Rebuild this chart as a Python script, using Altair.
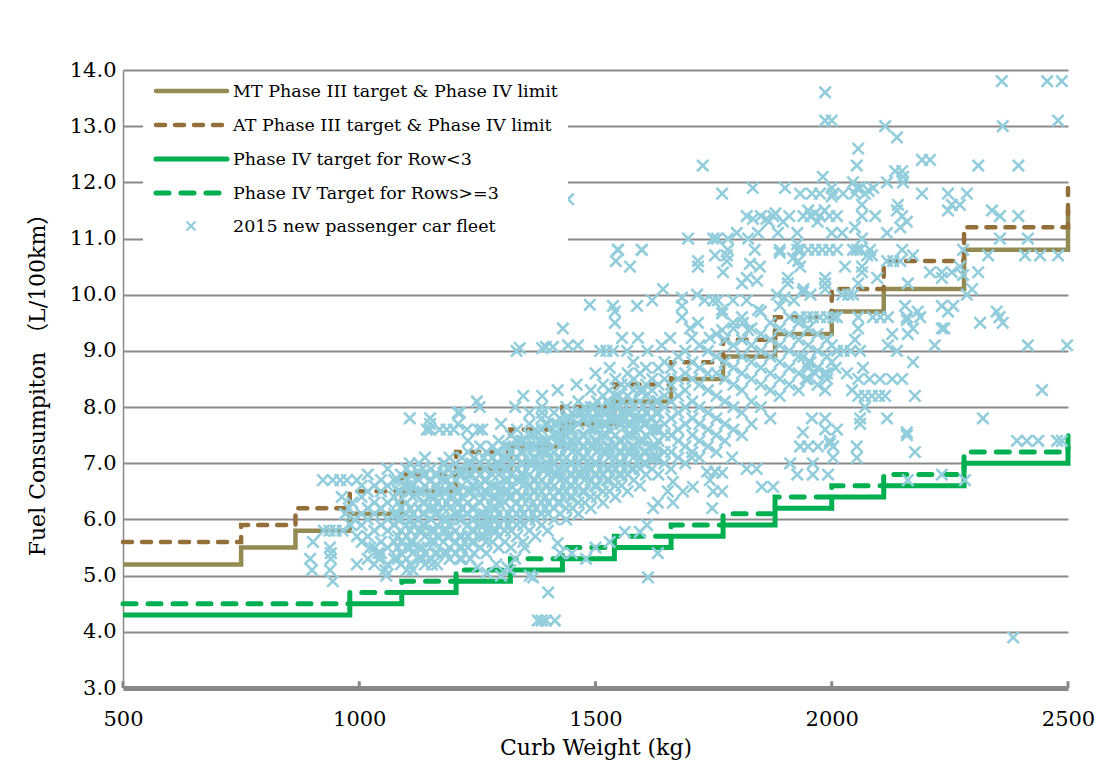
import altair as alt
import pandas as pd

# ---------------- step standards ----------------
weight_breaks = [500, 750, 865, 980, 1090, 1205, 1320, 1430, 1540, 1660, 1770, 1880, 2000, 2110, 2280, 2500]
mt_limit = [5.2, 5.5, 5.8, 6.1, 6.5, 6.9, 7.3, 7.7, 8.1, 8.5, 8.9, 9.3, 9.7, 10.1, 10.8, 11.5]
at_limit = [5.6, 5.9, 6.2, 6.5, 6.8, 7.2, 7.6, 8.0, 8.4, 8.8, 9.2, 9.6, 10.1, 10.6, 11.2, 11.9]
target_row_lt3 = [4.3, 4.3, 4.3, 4.5, 4.7, 4.9, 5.1, 5.3, 5.5, 5.7, 5.9, 6.2, 6.4, 6.6, 7.0, 7.3]
target_row_ge3 = [4.5, 4.5, 4.5, 4.7, 4.9, 5.1, 5.3, 5.5, 5.7, 5.9, 6.1, 6.4, 6.6, 6.8, 7.2, 7.6]

series_names = [
    "MT Phase III target & Phase IV limit",
    "AT Phase III target & Phase IV limit",
    "Phase IV target for Row<3",
    "Phase IV Target for Rows>=3",
    "2015 new passenger car  fleet",
]

x_tick_values = [500, 1000, 1500, 2000, 2500]
y_tick_values = [3.0, 4.0, 5.0, 6.0, 7.0, 8.0, 9.0, 10.0, 11.0, 12.0, 13.0, 14.0]

# ---------------- 2015 fleet ----------------
left_points = [
    (902, 5.6), (896, 5.3), (900, 5.1), (938, 5.5), (940, 5.4), (940, 5.3), (944, 4.9), (938, 5.1),
    (923, 6.7), (944, 6.7), (960, 6.7), (974, 6.7), (995, 6.7), (963, 6.4), (995, 5.7), (995, 5.2),
    (1023, 5.5), (1040, 5.4), (1042, 5.3), (1055, 5.1), (1057, 5.0), (1101, 5.1), (1154, 5.2),
    (925, 5.8), (937, 5.8), (950, 5.8), (965, 5.8), (978, 6.2), (985, 6.3), (990, 6.0), (982, 5.9),
    (970, 6.1), (1107, 7.8), (1107, 7.0), (1139, 7.1), (1150, 7.8), (1150, 7.7), (1150, 7.6),
    (1181, 7.0), (1185, 7.6), (1200, 7.6), (1209, 7.9), (1209, 7.7), (1213, 7.9), (1228, 7.6),
    (1230, 7.4), (1249, 8.1), (1252, 7.6), (1260, 7.6), (1143, 7.6), (1170, 7.6), (1255, 8.0),
]

mid_points = [
    (1347, 8.2), (1330, 8.0), (1387, 8.2), (1387, 8.0), (1387, 7.9), (1340, 9.05), (1333, 9.0),
    (1387, 9.05), (1395, 9.07), (1410, 9.07), (1442, 9.1), (1463, 9.1), (1442, 11.7), (1431, 9.4),
    (1488, 9.82), (1510, 9.0), (1523, 9.0), (1537, 9.0), (1567, 9.0), (1300, 7.7), (1360, 7.9),
    (1420, 8.3), (1460, 8.4), (1500, 8.6), (1530, 8.7), (1580, 8.8), (1610, 9.0), (1640, 9.1),
]

upper_points = [
    (1543, 10.6), (1573, 10.5), (1598, 10.8), (1547, 10.8), (1717, 10.6), (1717, 10.5), (1753, 10.7),
    (1778, 10.7), (1778, 10.6), (1770, 10.4), (1827, 10.55), (1848, 10.5), (1810, 10.2), (1820, 10.3),
    (1842, 10.25), (1890, 10.75), (1918, 10.65), (1929, 10.6), (1907, 10.3), (1907, 10.2), (1884, 10.0),
    (1900, 9.95), (1920, 9.9), (1939, 10.05), (1643, 10.1), (1620, 9.9), (1537, 9.8), (1541, 9.7),
    (1541, 9.5), (1588, 9.8), (1683, 9.95), (1683, 9.8), (1683, 9.6), (1715, 10.0), (1731, 9.9),
    (1749, 9.9), (1759, 9.9), (1768, 9.73), (1768, 9.67), (1791, 9.9), (1820, 9.9), (1844, 9.73),
    (1791, 9.5), (1812, 9.5), (1823, 9.37), (1700, 9.4), (1717, 9.5), (1704, 9.23), (1742, 9.23),
    (1768, 9.37), (1556, 9.23), (1590, 9.23), (1658, 9.23),
    (1727, 12.3), (1768, 11.8), (1833, 11.9), (1901, 11.9), (1933, 11.8), (1820, 11.4), (1833, 11.35),
    (1850, 11.4), (1862, 11.35), (1867, 11.3), (1876, 11.4), (1881, 11.45), (1897, 11.3), (1910, 11.4),
    (1799, 11.1), (1844, 11.1), (1886, 11.1), (1927, 11.1), (1696, 11.0), (1749, 11.0), (1757, 11.0),
    (1780, 11.0), (1823, 11.0), (1548, 10.8), (1598, 10.8), (1780, 10.8), (1837, 10.8), (1890, 10.8),
    (1927, 10.9), (1927, 10.8),
]

heavy_points = [
    (1986, 13.6), (1986, 13.1), (2000, 13.1), (2360, 13.8), (2456, 13.8), (2487, 13.8), (2113, 13.0),
    (2362, 13.0), (2479, 13.1), (2138, 12.8), (2056, 12.6), (2053, 12.3), (2191, 12.4), (2208, 12.4),
    (2310, 12.3), (2395, 12.3), (1981, 12.1), (2134, 12.2), (2149, 12.2), (2151, 12.1), (2151, 12.0),
    (2045, 12.0), (2053, 11.9), (2117, 12.0), (1958, 11.8), (1975, 11.8), (2003, 11.8),
    (2024, 11.8), (2000, 11.9), (2000, 11.75), (2049, 11.8), (2060, 11.9), (2070, 11.8), (2078, 11.85),
    (2088, 11.9), (2191, 11.8), (2246, 11.8), (2286, 11.8), (2254, 11.6), (2271, 11.6), (2246, 11.5),
    (2339, 11.5), (2356, 11.4), (2395, 11.4), (2064, 11.6), (2064, 11.4), (2092, 11.4), (2140, 11.6),
    (2138, 11.5), (2149, 11.4), (2159, 11.3), (2145, 11.2), (1940, 11.4), (1955, 11.4), (1965, 11.45),
    (1975, 11.4), (1985, 11.5), (1995, 11.4), (2011, 11.4), (1950, 11.5), (1970, 11.3), (2049, 11.2),
    (2064, 11.0), (2000, 11.1), (2022, 11.1), (2117, 11.1), (1933, 10.8), (1950, 10.8), (1965, 10.8),
    (1980, 10.8), (1995, 10.8), (2011, 10.8), (2053, 10.8), (2081, 10.8), (2149, 10.8), (2356, 11.0),
    (2415, 11.0), (2278, 10.8), (2045, 10.8), (2060, 10.8), (2075, 10.7), (2085, 10.7), (2172, 10.7),
    (2331, 10.7), (2409, 10.7), (2441, 10.7), (2479, 10.7), (2028, 10.5), (2064, 10.5), (2064, 10.4),
    (2096, 10.3), (2117, 10.6), (2130, 10.6), (2145, 10.6), (2208, 10.4), (2233, 10.4), (2233, 10.3),
    (2254, 10.4), (2271, 10.5), (2278, 10.35), (2310, 10.4), (2161, 10.2), (2297, 10.1), (2286, 10.0),
    (1986, 10.3), (1986, 10.2), (1986, 10.1), (2056, 10.2), (2022, 10.0), (2035, 10.0), (2045, 10.0),
    (1933, 10.5), (1940, 10.1), (1955, 10.0),
    (1933, 9.6), (1948, 9.6), (1960, 9.6), (1975, 9.6), (1990, 9.6), (2003, 9.6), (2011, 9.6),
    (2155, 9.8), (2159, 9.6), (2159, 9.55), (2182, 9.7), (2187, 9.6), (2233, 9.8), (2246, 9.7),
    (2257, 9.8), (2056, 9.6), (2087, 9.6), (2103, 9.6), (2119, 9.6), (2233, 9.4), (2238, 9.4),
    (2314, 9.5), (2349, 9.7), (2355, 9.6), (2362, 9.5), (1950, 9.4), (2056, 9.4), (2128, 9.3),
    (2161, 9.3), (2172, 9.4), (2049, 9.2), (2000, 9.1), (2119, 9.1), (2218, 9.1), (2415, 9.1),
    (2498, 9.1), (2011, 9.0), (2025, 9.0), (2040, 9.0), (2060, 9.0), (2138, 9.0), (2172, 8.8),
    (2066, 8.7), (2032, 8.6), (2056, 8.5), (2080, 8.5), (2102, 8.5), (2128, 8.5), (2149, 8.5),
    (1940, 8.9), (1955, 8.8), (1970, 8.7), (1985, 8.6), (2000, 8.8), (1945, 8.5), (1965, 8.6),
    (1990, 8.5), (2008, 8.7), (1950, 8.7),
    (1986, 8.3), (2043, 8.3), (2056, 8.2), (2070, 8.2), (2085, 8.2), (2100, 8.2), (2113, 8.2),
    (2176, 8.2), (2445, 8.3), (2070, 8.0), (1958, 7.8), (1986, 7.8), (2060, 7.8), (2060, 7.7),
    (2117, 7.8), (2320, 7.8), (1986, 7.6), (2011, 7.6), (2159, 7.55), (1939, 7.55), (1996, 7.4),
    (1996, 7.35), (1933, 7.3), (1950, 7.3), (1971, 7.3), (2003, 7.3), (2003, 7.1), (2053, 7.3),
    (2053, 7.1), (1960, 7.0), (1960, 6.8), (1992, 6.8), (2159, 7.5), (2176, 7.2), (2161, 6.7),
    (2233, 6.8), (2282, 6.7), (2392, 7.4), (2413, 7.4), (2437, 7.4), (2477, 7.4), (2487, 7.4),
    (2384, 3.9),
]

low_points = [
    (1235, 5.3), (1250, 5.15), (1213, 5.3), (1270, 5.05), (1300, 5.0), (1313, 5.15), (1368, 4.97),
    (1400, 4.7), (1378, 4.2), (1386, 4.2), (1395, 4.2), (1414, 4.2), (1420, 5.58),
    (1425, 5.4), (1611, 4.97), (1632, 5.4), (1562, 5.78), (1594, 5.78), (1609, 5.9), (1622, 6.2),
    (1632, 6.3), (1664, 6.3), (1653, 6.5), (1664, 6.67), (1685, 6.5), (1706, 6.58), (1747, 6.2),
    (1749, 6.5), (1768, 6.5), (1736, 6.85), (1742, 6.7), (1753, 6.85), (1768, 6.83), (1852, 6.58),
    (1876, 6.58), (1820, 6.9), (1841, 6.9), (1912, 7.0), (1927, 6.8), (1704, 7.1), (1789, 7.1),
    (1480, 5.3), (1500, 5.5), (1530, 5.6), (1450, 5.4), (1350, 5.5), (1330, 5.3), (1290, 5.2),
    (1319, 5.1), (1361, 5.0),
]

core_weight = [1005, 1018, 1032, 1046, 1060, 1074, 1088, 1100, 1113, 1126, 1139, 1152, 1165, 1178,
               1191, 1204, 1217, 1230, 1243, 1256, 1269, 1282, 1295, 1308, 1321, 1334, 1347, 1360,
               1373, 1386, 1399, 1412, 1425, 1438, 1451, 1464, 1477, 1490, 1503, 1516, 1529, 1542,
               1555, 1568, 1581, 1594, 1607, 1620, 1633, 1646, 1660, 1675, 1690, 1705, 1720, 1738,
               1756, 1774, 1792, 1810, 1830, 1850, 1870, 1890, 1910, 1930, 1950, 1970, 1990]
core_fc = [
    [5.6, 5.9, 6.1, 6.4, 6.6],
    [5.3, 5.7, 6.0, 6.2, 6.5, 6.8],
    [5.2, 5.5, 5.8, 6.1, 6.3, 6.6],
    [5.4, 5.6, 5.9, 6.2, 6.5, 6.7],
    [5.2, 5.5, 5.8, 6.0, 6.3, 6.6, 6.9],
    [5.3, 5.6, 5.9, 6.1, 6.4, 6.7],
    [5.2, 5.4, 5.6, 5.8, 6.0, 6.2, 6.5, 6.8],
    [5.3, 5.5, 5.7, 5.9, 6.1, 6.3, 6.6, 6.9],
    [5.1, 5.4, 5.6, 5.9, 6.1, 6.4, 6.6, 6.8],
    [5.3, 5.5, 5.8, 6.0, 6.2, 6.5, 6.7, 7.0],
    [5.2, 5.4, 5.7, 5.9, 6.1, 6.3, 6.6, 6.8],
    [5.3, 5.6, 5.8, 6.0, 6.2, 6.4, 6.7, 6.9],
    [5.2, 5.4, 5.7, 5.9, 6.1, 6.3, 6.5, 6.8],
    [5.4, 5.6, 5.8, 6.0, 6.2, 6.5, 6.7, 7.0],
    [5.3, 5.5, 5.7, 5.9, 6.2, 6.4, 6.6, 6.9, 7.1],
    [5.4, 5.6, 5.8, 6.1, 6.3, 6.5, 6.7, 7.0],
    [5.3, 5.5, 5.7, 6.0, 6.2, 6.4, 6.6, 6.8, 7.1],
    [5.5, 5.7, 5.9, 6.1, 6.3, 6.5, 6.8, 7.0, 7.2],
    [5.4, 5.6, 5.8, 6.0, 6.2, 6.4, 6.6, 6.9, 7.1],
    [5.5, 5.7, 5.9, 6.1, 6.3, 6.6, 6.8, 7.0, 7.3],
    [5.4, 5.6, 5.8, 6.0, 6.2, 6.5, 6.7, 6.9, 7.2],
    [5.6, 5.8, 6.0, 6.2, 6.4, 6.6, 6.8, 7.1, 7.3],
    [5.5, 5.7, 5.9, 6.1, 6.3, 6.5, 6.8, 7.0, 7.2, 7.4],
    [5.6, 5.8, 6.0, 6.3, 6.5, 6.7, 6.9, 7.1, 7.3],
    [5.5, 5.8, 6.0, 6.2, 6.4, 6.6, 6.8, 7.0, 7.2, 7.5],
    [5.7, 5.9, 6.1, 6.3, 6.5, 6.7, 6.9, 7.1, 7.4, 7.6],
    [5.6, 5.9, 6.1, 6.4, 6.6, 6.8, 7.0, 7.2, 7.4],
    [5.8, 6.0, 6.2, 6.4, 6.6, 6.8, 7.0, 7.3, 7.5, 7.7],
    [5.7, 6.0, 6.2, 6.5, 6.7, 6.9, 7.1, 7.3, 7.6],
    [5.9, 6.1, 6.3, 6.5, 6.7, 6.9, 7.2, 7.4, 7.6, 7.8],
    [5.8, 6.1, 6.3, 6.6, 6.8, 7.0, 7.2, 7.4, 7.7],
    [6.0, 6.2, 6.4, 6.6, 6.8, 7.0, 7.2, 7.5, 7.7, 7.9],
    [6.1, 6.3, 6.5, 6.7, 6.9, 7.1, 7.3, 7.5, 7.8],
    [6.0, 6.2, 6.5, 6.7, 6.9, 7.1, 7.3, 7.6, 7.8, 8.0],
    [6.2, 6.4, 6.6, 6.8, 7.0, 7.2, 7.4, 7.6, 7.9],
    [6.1, 6.3, 6.6, 6.8, 7.0, 7.2, 7.4, 7.7, 7.9, 8.1],
    [6.3, 6.5, 6.7, 6.9, 7.1, 7.3, 7.5, 7.8, 8.0],
    [6.2, 6.4, 6.7, 6.9, 7.1, 7.3, 7.6, 7.8, 8.0, 8.3],
    [6.4, 6.6, 6.8, 7.0, 7.2, 7.4, 7.7, 7.9, 8.1],
    [6.3, 6.5, 6.8, 7.0, 7.2, 7.5, 7.7, 7.9, 8.2, 8.4],
    [6.5, 6.7, 6.9, 7.1, 7.3, 7.6, 7.8, 8.0, 8.3],
    [6.4, 6.6, 6.9, 7.1, 7.3, 7.5, 7.8, 8.0, 8.2, 8.5],
    [6.6, 6.8, 7.0, 7.2, 7.4, 7.7, 7.9, 8.1, 8.4],
    [6.5, 6.8, 7.0, 7.2, 7.5, 7.7, 7.9, 8.2, 8.4, 8.6],
    [6.7, 6.9, 7.1, 7.3, 7.6, 7.8, 8.0, 8.3, 8.5],
    [6.6, 6.9, 7.1, 7.4, 7.6, 7.8, 8.1, 8.3, 8.6],
    [6.8, 7.0, 7.2, 7.5, 7.7, 7.9, 8.2, 8.4, 8.7],
    [6.9, 7.1, 7.3, 7.6, 7.8, 8.0, 8.3, 8.5],
    [6.8, 7.1, 7.4, 7.6, 7.9, 8.1, 8.4, 8.7],
    [7.0, 7.2, 7.5, 7.7, 8.0, 8.2, 8.5, 8.8],
    [6.9, 7.2, 7.5, 7.8, 8.1, 8.4, 8.7],
    [7.1, 7.4, 7.6, 7.9, 8.2, 8.5, 8.9],
    [7.0, 7.3, 7.7, 8.0, 8.3, 8.6, 9.0],
    [7.2, 7.5, 7.8, 8.1, 8.5, 8.8],
    [7.1, 7.4, 7.7, 8.0, 8.4, 8.7, 9.1],
    [7.3, 7.6, 7.9, 8.3, 8.6, 9.0],
    [7.2, 7.5, 7.8, 8.2, 8.6, 8.9, 9.3],
    [7.4, 7.7, 8.1, 8.5, 8.8, 9.2],
    [7.6, 8.0, 8.4, 8.7, 9.1, 9.4],
    [7.5, 7.9, 8.3, 8.6, 8.9, 9.2, 9.6],
    [7.7, 8.1, 8.5, 8.8, 9.1, 9.4],
    [8.0, 8.4, 8.7, 9.0, 9.3, 9.7],
    [7.8, 8.3, 8.6, 8.9, 9.2, 9.5],
    [8.2, 8.5, 8.8, 9.1, 9.4, 9.8],
    [8.4, 8.7, 9.0, 9.3, 9.6],
    [8.3, 8.6, 8.9, 9.2, 9.5],
    [8.5, 8.8, 9.1, 9.4],
    [8.4, 8.7, 9.0, 9.3],
    [8.6, 8.9, 9.2],
]

# the densest part of the cloud, second pass between the columns above
dense_weight = [1082, 1108, 1134, 1160, 1186, 1212, 1238, 1264, 1290, 1316, 1342, 1368, 1394,
                1420, 1446, 1472, 1498, 1524, 1550, 1576, 1602, 1628]
dense_fc = [
    [5.3, 5.5, 5.7, 6.0, 6.1, 6.3, 6.5, 6.7],
    [5.2, 5.5, 5.6, 5.8, 6.0, 6.2, 6.5, 6.6, 6.8],
    [5.3, 5.5, 5.8, 5.9, 6.1, 6.3, 6.5, 6.8, 6.9],
    [5.4, 5.6, 5.8, 6.1, 6.2, 6.4, 6.6, 6.8],
    [5.4, 5.7, 5.8, 6.0, 6.3, 6.5, 6.7, 6.9],
    [5.5, 5.7, 6.0, 6.1, 6.3, 6.5, 6.8, 6.9],
    [5.6, 5.8, 6.0, 6.2, 6.5, 6.6, 6.8, 7.0],
    [5.7, 5.9, 6.1, 6.4, 6.5, 6.7, 6.9, 7.1],
    [5.8, 6.0, 6.2, 6.4, 6.6, 6.9, 7.0, 7.2],
    [5.9, 6.1, 6.4, 6.5, 6.7, 6.9, 7.1, 7.3],
    [6.0, 6.2, 6.4, 6.7, 6.8, 7.0, 7.2, 7.4],
    [6.1, 6.3, 6.5, 6.7, 7.0, 7.1, 7.3, 7.5],
    [6.2, 6.4, 6.6, 6.9, 7.0, 7.2, 7.4, 7.7],
    [6.3, 6.5, 6.8, 6.9, 7.1, 7.4, 7.5, 7.7],
    [6.4, 6.6, 6.8, 7.0, 7.3, 7.4, 7.6, 7.8],
    [6.5, 6.8, 6.9, 7.1, 7.3, 7.5, 7.8, 7.9],
    [6.6, 6.8, 7.0, 7.3, 7.4, 7.6, 7.8, 8.0],
    [6.7, 6.9, 7.2, 7.3, 7.5, 7.7, 7.9, 8.1],
    [6.8, 7.0, 7.2, 7.4, 7.7, 7.8, 8.0, 8.2],
    [6.9, 7.2, 7.3, 7.5, 7.7, 7.9, 8.1],
    [7.0, 7.2, 7.4, 7.7, 7.8, 8.0, 8.3],
    [7.1, 7.3, 7.6, 7.7, 7.9, 8.1],
]

# ---------------- tables ----------------
step_rows = []
for name, vals in zip(series_names[:4], [mt_limit, at_limit, target_row_lt3, target_row_ge3]):
    for w, v in zip(weight_breaks, vals):
        step_rows.append({"series": name, "weight": w, "fc": v})
steps = pd.DataFrame(step_rows)

fleet_rows = [{"weight": w, "fc": f} for w, f in left_points + mid_points + upper_points + heavy_points + low_points]
for w, fcs in list(zip(core_weight, core_fc)) + list(zip(dense_weight, dense_fc)):
    for f in fcs:
        fleet_rows.append({"weight": w, "fc": f})
fleet = pd.DataFrame(fleet_rows)

FONT = "DejaVu Serif"
GRID = "#898989"
MT_COLOR = "#948A54"
AT_COLOR = "#93703A"
GREEN = "#00B050"
BLUE = "#92CDDC"
X_SHAPE = "M-1,-1L1,1M-1,1L1,-1"

x_scale = alt.Scale(domain=[500, 2500], nice=False, zero=False)
y_scale = alt.Scale(domain=[3, 14], nice=False, zero=False)

x_enc = alt.X("weight:Q", scale=x_scale, axis=alt.Axis(
    values=x_tick_values, format="d", title="Curb Weight (kg)", grid=False, ticks=False,
    domainColor=GRID, domainWidth=5, labelFlush=False, labelPadding=20, titlePadding=8,
))
y_enc = alt.Y("fc:Q", scale=y_scale, axis=alt.Axis(
    values=y_tick_values, format=".1f", title="Fuel Consumpiton （L/100km）", grid=True,
    gridColor=GRID, gridWidth=2, ticks=False, domainColor=GRID, domainWidth=1.5,
    labelPadding=7, titlePadding=20,
))


def step_layer(name, color, width, dash=None):
    kw = dict(interpolate="step-after", color=color, strokeWidth=width)
    if dash:
        kw.update(strokeDash=dash, strokeCap="round")
    return alt.Chart(steps).transform_filter(alt.datum.series == name).mark_line(**kw).encode(
        x=x_enc, y=y_enc
    )


mt_line = step_layer(series_names[0], MT_COLOR, 4.5)
at_line = step_layer(series_names[1], AT_COLOR, 4.5, [9, 10])
g1_line = step_layer(series_names[2], GREEN, 5)
g2_line = step_layer(series_names[3], GREEN, 5, [13, 12])

ticks_df = pd.DataFrame({"weight": x_tick_values})
x_ticks = alt.Chart(ticks_df).mark_rule(color=GRID, strokeWidth=3).encode(
    x=alt.X("weight:Q", scale=x_scale), y=alt.datum(3.0), y2=alt.datum(3.12)
)

points = alt.Chart(fleet).mark_point(
    shape=X_SHAPE, filled=False, color=BLUE, strokeWidth=2.6, size=130, opacity=1
).encode(x=x_enc, y=y_enc)

# ---------------- legend (drawn) ----------------
one = pd.DataFrame({"k": [0]})
leg_x0, leg_x1, leg_tx = 33, 104, 110
leg_rows_y = [21, 55, 89, 123, 156]
legend_layers = [
    alt.Chart(one).mark_rect(color="white").encode(
        x=alt.value(20), x2=alt.value(445), y=alt.value(3), y2=alt.value(176)
    ),
    alt.Chart(one).mark_rule(color=MT_COLOR, strokeWidth=4.5, strokeCap="round").encode(
        x=alt.value(leg_x0), x2=alt.value(leg_x1), y=alt.value(leg_rows_y[0])
    ),
    alt.Chart(one).mark_rule(color=AT_COLOR, strokeWidth=4.5, strokeCap="round", strokeDash=[9, 10]).encode(
        x=alt.value(leg_x0), x2=alt.value(leg_x1), y=alt.value(leg_rows_y[1])
    ),
    alt.Chart(one).mark_rule(color=GREEN, strokeWidth=5, strokeCap="round").encode(
        x=alt.value(leg_x0), x2=alt.value(leg_x1), y=alt.value(leg_rows_y[2])
    ),
    alt.Chart(one).mark_rule(color=GREEN, strokeWidth=5, strokeCap="round", strokeDash=[13, 12]).encode(
        x=alt.value(leg_x0), x2=alt.value(leg_x1 - 4), y=alt.value(leg_rows_y[3])
    ),
    alt.Chart(one).mark_point(shape=X_SHAPE, filled=False, color=BLUE, strokeWidth=2.2, size=80, opacity=1).encode(
        x=alt.value(68), y=alt.value(leg_rows_y[4])
    ),
]
for name, yy in zip(series_names, leg_rows_y):
    legend_layers.append(
        alt.Chart(one).mark_text(
            text=name, align="left", baseline="middle", font=FONT, fontSize=17.5, color="black"
        ).encode(x=alt.value(leg_tx), y=alt.value(yy + 1))
    )

chart = alt.layer(
    mt_line, at_line, g1_line, g2_line, x_ticks, points, *legend_layers
).properties(
    width=945, height=618,
    padding={"left": 115, "top": 62, "right": 29, "bottom": 73},
    autosize=alt.AutoSizeParams(type="none"),
    background="white",
).configure_view(strokeWidth=0).configure_axis(
    labelFont=FONT, labelFontSize=21, labelColor="black",
    titleFont=FONT + ", Noto Sans CJK SC", titleFontSize=22, titleFontWeight="normal", titleColor="black",
)

chart.save("out.html", embed_options={"renderer": "svg", "actions": False})
